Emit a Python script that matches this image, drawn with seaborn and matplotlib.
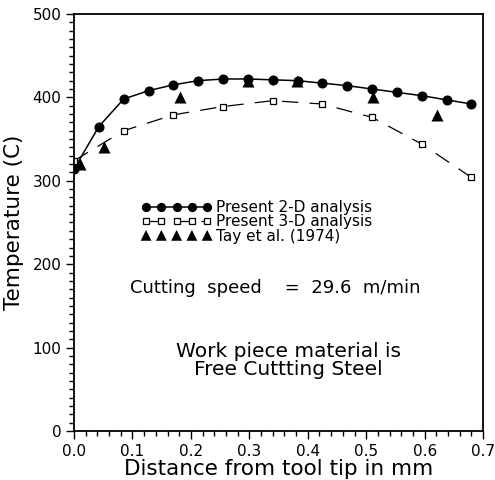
import numpy as np
import pandas as pd
import matplotlib
matplotlib.use('Agg')
import matplotlib.pyplot as plt
import seaborn as sns
from matplotlib.ticker import MultipleLocator, FormatStrFormatter

# 2-D analysis (filled circles, solid line)
x_2d = [0.0, 0.0425, 0.085, 0.1275, 0.17, 0.2125, 0.255, 0.2975, 0.34,
        0.3825, 0.425, 0.4675, 0.51, 0.5525, 0.595, 0.6375, 0.68]
t_2d = [314, 365, 398, 408, 415, 420, 422, 422, 421,
        420, 417, 414, 410, 406, 402, 397, 392]

# 3-D analysis (open squares, dashed line)
x_3d = [0.0, 0.085, 0.17, 0.255, 0.34, 0.425, 0.51, 0.595, 0.68]
t_3d = [324, 360, 379, 389, 396, 392, 376, 344, 304]

# Tay et al. (1974) experimental (filled triangles)
x_tay = [0.010, 0.052, 0.181, 0.298, 0.382, 0.511, 0.621]
t_tay = [320, 340, 400, 420, 420, 400, 379]

df2 = pd.DataFrame({'x': x_2d, 't': t_2d})
df3 = pd.DataFrame({'x': x_3d, 't': t_3d})
dft = pd.DataFrame({'x': x_tay, 't': t_tay})

sns.set_style('ticks')
plt.rcParams['font.family'] = ['DejaVu Sans']
plt.rcParams['text.color'] = 'black'
plt.rcParams['axes.labelcolor'] = 'black'
plt.rcParams['xtick.color'] = 'black'
plt.rcParams['ytick.color'] = 'black'
plt.rcParams['axes.edgecolor'] = 'black'

fig, ax = plt.subplots(figsize=(4.95, 4.8), dpi=100)
fig.subplots_adjust(left=0.1495, right=0.976, top=0.971, bottom=0.102)

sns.lineplot(data=df2, x='x', y='t', ax=ax, color='black', lw=1.1,
             marker='o', markersize=6.5, markeredgecolor='black',
             label='Present 2-D analysis')
ax.plot(df3.x, df3.t, color='black', lw=0.9, ls=(0, (13, 9)),
        marker='s', markersize=5, markerfacecolor='white',
        markeredgecolor='black', markeredgewidth=0.9,
        label='Present 3-D analysis')
sns.scatterplot(data=dft, x='x', y='t', ax=ax, color='black', marker='^',
                s=75, edgecolor='black', linewidth=0, label='Tay et al. (1974)')

ax.set_xlim(0, 0.7)
ax.set_ylim(0, 500)
ax.xaxis.set_major_locator(MultipleLocator(0.1))
ax.xaxis.set_minor_locator(MultipleLocator(0.02))
ax.yaxis.set_major_locator(MultipleLocator(100))
ax.yaxis.set_minor_locator(MultipleLocator(10))
ax.xaxis.set_major_formatter(FormatStrFormatter('%.1f'))
ax.tick_params(which='major', length=6, width=1, labelsize=11, pad=3)
ax.tick_params(which='minor', length=3.5, width=1)
for s in ax.spines.values():
    s.set_linewidth(1.3)
    s.set_visible(True)

ax.set_xlabel('Distance from tool tip in mm', fontsize=15.5, labelpad=0)
ax.set_ylabel('Temperature (C)', fontsize=15.5, labelpad=6)

ax.legend(loc='upper left', bbox_to_anchor=(0.15, 0.568), frameon=False,
          numpoints=5, scatterpoints=5, scatteryoffsets=[0.5],
          handlelength=4.6, handletextpad=0.3, markerscale=0.9,
          labelspacing=-0.05, fontsize=11, borderaxespad=0)

ax.text(0.095, 171, 'Cutting  speed    =  29.6  m/min', fontsize=13, va='center')
ax.text(0.367, 85, 'Work piece material is\nFree Cuttting Steel', fontsize=14.5,
        ha='center', va='center', linespacing=0.95)

plt.savefig('out.png', dpi=100)
